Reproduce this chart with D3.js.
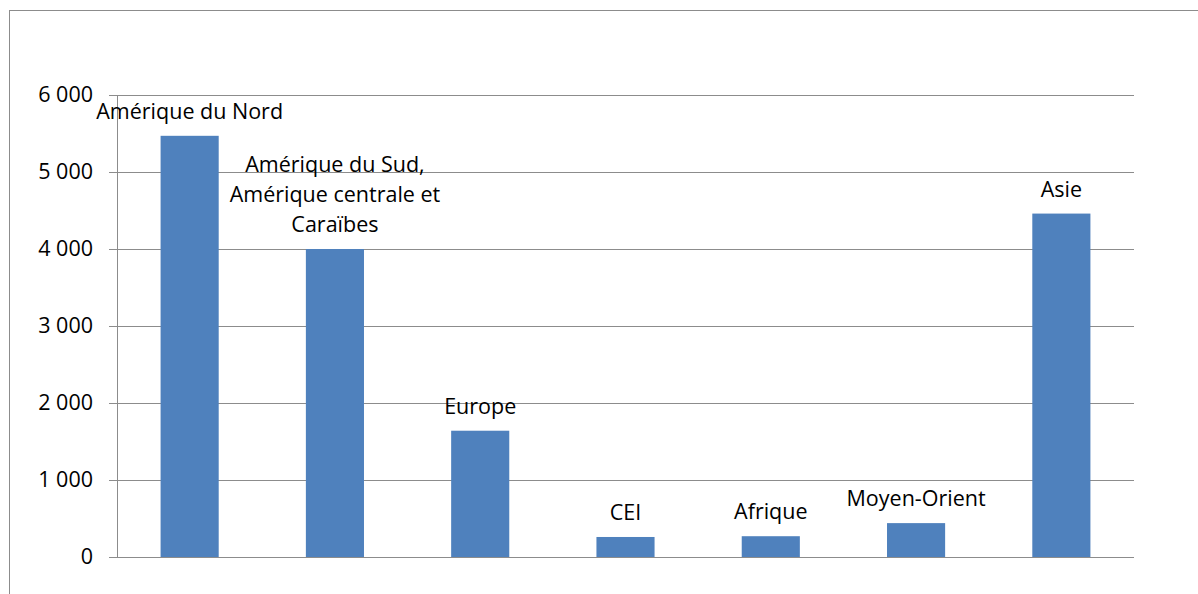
<!DOCTYPE html>
<html>
<head>
<meta charset="utf-8">
<script src="https://cdn.jsdelivr.net/npm/d3@7"></script>
<style>
  body { margin: 0; background: #fff; }
  text { font-family: "Open Sans", sans-serif; fill: #000; }
</style>
</head>
<body>
<svg width="1198" height="594"></svg>
<script>
var regions = [
  ["Amérique du Nord"],
  ["Amérique du Sud,", "Amérique centrale et", "Caraïbes"],
  ["Europe"],
  ["CEI"],
  ["Afrique"],
  ["Moyen-Orient"],
  ["Asie"]
];
var values = [5470, 4000, 1640, 260, 270, 440, 4460];
var yTicks = [0, 1000, 2000, 3000, 4000, 5000, 6000];

var svg = d3.select("svg"),
    margin = {top: 95, right: 64, bottom: 37, left: 117},
    width = 1198 - margin.left - margin.right,
    height = 594 - margin.top - margin.bottom;

// outer chart frame, runs off the right and bottom edges
svg.append("rect")
    .attr("x", 9.5)
    .attr("y", 10.5)
    .attr("width", 1300)
    .attr("height", 700)
    .attr("fill", "none")
    .attr("stroke", "#8c8c8c")
    .attr("stroke-width", 1);

var g = svg.append("g")
    .attr("transform", "translate(" + margin.left + "," + margin.top + ")");

var x = d3.scaleBand()
    .domain(d3.range(values.length))
    .range([0, width])
    .paddingInner(0.6)
    .paddingOuter(0.3);

var y = d3.scaleLinear()
    .domain([0, 6000])
    .range([height, 0]);

var fmt = function(d) { return d3.format(",")(d).replace(",", " "); };

// gridlines
g.append("g")
    .attr("class", "grid")
  .selectAll("line")
  .data(yTicks)
  .enter().append("line")
    .attr("x1", 0)
    .attr("x2", width)
    .attr("y1", function(d) { return Math.round(y(d)) + 0.5; })
    .attr("y2", function(d) { return Math.round(y(d)) + 0.5; })
    .attr("stroke", "#8c8c8c")
    .attr("stroke-width", 1);

// y axis
var yAxis = g.append("g")
    .call(d3.axisLeft(y).tickValues(yTicks).tickFormat(fmt).tickSize(8).tickPadding(16));

yAxis.select(".domain").attr("stroke", "#8c8c8c");
yAxis.selectAll(".tick line").attr("stroke", "#8c8c8c");
yAxis.selectAll(".tick text")
    .attr("font-family", "Open Sans")
    .attr("font-size", 21.5)
    .attr("fill", "#000");

// bars
g.append("g")
  .selectAll("rect")
  .data(values)
  .enter().append("rect")
    .attr("x", function(d, i) { return x(i); })
    .attr("y", function(d) { return y(d); })
    .attr("width", x.bandwidth())
    .attr("height", function(d) { return height - y(d); })
    .attr("fill", "#4f81bd");

// category labels above bars
var lineH = 30;
var labels = g.append("g")
  .selectAll("text")
  .data(regions)
  .enter().append("text")
    .attr("text-anchor", "middle")
    .attr("font-size", 21.5)
    .attr("x", function(d, i) { return x(i) + x.bandwidth() / 2; })
    .attr("y", function(d, i) { return y(values[i]) - 17 - (d.length - 1) * lineH; });

labels.selectAll("tspan")
  .data(function(d, i) { return d.map(function(s) { return {s: s, i: i}; }); })
  .enter().append("tspan")
    .attr("x", function(d) { return x(d.i) + x.bandwidth() / 2; })
    .attr("dy", function(d, j) { return j ? lineH : 0; })
    .text(function(d) { return d.s; });

// bottom axis line on top of the bars
g.append("line")
    .attr("x1", 0)
    .attr("x2", width)
    .attr("y1", height + 0.5)
    .attr("y2", height + 0.5)
    .attr("stroke", "#8c8c8c");
</script>
</body>
</html>
